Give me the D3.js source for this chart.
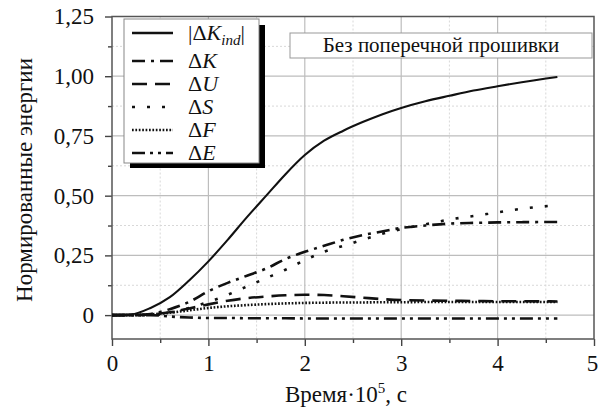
<!DOCTYPE html>
<html>
<head>
<meta charset="utf-8">
<script src="https://cdn.jsdelivr.net/npm/d3@7"></script>
<style>
  body { margin: 0; background: #fff; }
  svg { display: block; }
</style>
</head>
<body>
<div id="chart"></div>
<script>
// values (time in 1e-5 s, normalised energies)
const time   = [0, 0.2, 0.4, 0.6, 0.8, 1.0, 1.2, 1.4, 1.6, 1.8, 2.0, 2.2, 2.4, 2.6, 2.8, 3.0, 3.25, 3.5, 3.75, 4.0, 4.25, 4.62];
const kInd   = [0, 0.003, 0.03, 0.075, 0.145, 0.225, 0.315, 0.41, 0.50, 0.59, 0.67, 0.73, 0.772, 0.808, 0.84, 0.867, 0.895, 0.918, 0.94, 0.958, 0.975, 0.997];
const dK     = [0, 0, 0.005, 0.025, 0.055, 0.10, 0.135, 0.165, 0.195, 0.235, 0.265, 0.29, 0.315, 0.335, 0.35, 0.365, 0.375, 0.383, 0.386, 0.388, 0.389, 0.39];
const dU     = [0, 0, 0.003, 0.012, 0.028, 0.045, 0.06, 0.071, 0.078, 0.083, 0.085, 0.084, 0.079, 0.073, 0.067, 0.063, 0.061, 0.06, 0.059, 0.058, 0.058, 0.057];
const dS     = [0, 0, 0, 0.01, 0.03, 0.055, 0.085, 0.12, 0.155, 0.19, 0.23, 0.265, 0.29, 0.315, 0.34, 0.36, 0.38, 0.40, 0.415, 0.43, 0.445, 0.46];
const dF     = [0, 0, 0.003, 0.01, 0.02, 0.03, 0.037, 0.042, 0.046, 0.049, 0.051, 0.052, 0.053, 0.053, 0.054, 0.054, 0.055, 0.055, 0.055, 0.055, 0.055, 0.055];
const dE     = [0, 0, 0, -0.006, -0.01, -0.012, -0.012, -0.013, -0.013, -0.013, -0.014, -0.014, -0.014, -0.014, -0.014, -0.014, -0.014, -0.014, -0.014, -0.014, -0.014, -0.014];

const xTicks = [0, 1, 2, 3, 4, 5];
const yTicks = [0, 0.25, 0.5, 0.75, 1.0, 1.25];
const xMinor = [0.5, 1.5, 2.5, 3.5, 4.5];
const yMinor = [0.125, 0.375, 0.625, 0.875, 1.125];

const seriesNames = ["kInd", "dK", "dU", "dS", "dF", "dE"];
const seriesValues = [kInd, dK, dU, dS, dF, dE];
const dashes = ["none", "13,6,3,6", "15,8", "3,12", "1.7,1.7", "13,5,3,5,3,5"];
// legend labels: [text, italic?, subscript?]
const legendLabels = [
    [["|", 0, 0], ["Δ", 0, 0], ["K", 1, 0], ["ind", 1, 1], ["|", 0, 0]],
    [["Δ", 0, 0], ["K", 1, 0]],
    [["Δ", 0, 0], ["U", 1, 0]],
    [["Δ", 0, 0], ["S", 1, 0]],
    [["Δ", 0, 0], ["F", 1, 0]],
    [["Δ", 0, 0], ["E", 1, 0]]
];
const note = "Без поперечной прошивки";

const FONT = "'Liberation Serif', 'Times New Roman', Times";
const width = 598, height = 412;
const margin = { top: 16.5, right: 4, bottom: 73, left: 112 };

const svg = d3.select("#chart").append("svg")
    .attr("width", width)
    .attr("height", height)
    .attr("font-family", FONT);

const x = d3.scaleLinear().domain([0, 5]).range([margin.left, width - margin.right]);
const y = d3.scaleLinear().domain([-0.1, 1.25]).range([height - margin.bottom, margin.top]);

const fmt = d => d === 0 ? "0" : d3.format(".2f")(d).replace(".", ",");

// grid
const grid = svg.append("g");
grid.selectAll(".vminor").data(xMinor).join("line")
    .attr("x1", d => x(d)).attr("x2", d => x(d))
    .attr("y1", y(1.25)).attr("y2", y(-0.1))
    .attr("stroke", "#d8d8d8").attr("stroke-dasharray", "2,2");
grid.selectAll(".hminor").data(yMinor).join("line")
    .attr("x1", x(0)).attr("x2", x(5))
    .attr("y1", d => y(d)).attr("y2", d => y(d))
    .attr("stroke", "#d8d8d8").attr("stroke-dasharray", "2,2");
grid.selectAll(".vmajor").data(xTicks.slice(1, -1)).join("line")
    .attr("x1", d => x(d)).attr("x2", d => x(d))
    .attr("y1", y(1.25)).attr("y2", y(-0.1))
    .attr("stroke", "#bdbdbd").attr("stroke-width", 1.2);
grid.selectAll(".hmajor").data(yTicks.slice(0, -1)).join("line")
    .attr("x1", x(0)).attr("x2", x(5))
    .attr("y1", d => y(d)).attr("y2", d => y(d))
    .attr("stroke", "#bdbdbd").attr("stroke-width", 1.2);

// axes
const xAxis = svg.append("g")
    .attr("transform", `translate(0,${y(-0.1)})`)
    .call(d3.axisBottom(x).tickValues(xTicks).tickFormat(d3.format("d")).tickSize(7).tickPadding(9));
const xAxisMinor = svg.append("g")
    .attr("transform", `translate(0,${y(-0.1)})`)
    .call(d3.axisBottom(x).tickValues(xMinor).tickFormat("").tickSize(4));
const yAxis = svg.append("g")
    .attr("transform", `translate(${x(0)},0)`)
    .call(d3.axisLeft(y).tickValues(yTicks).tickFormat(fmt).tickSize(7).tickPadding(11));
const yAxisMinor = svg.append("g")
    .attr("transform", `translate(${x(0)},0)`)
    .call(d3.axisLeft(y).tickValues(yMinor).tickFormat("").tickSize(4));

[xAxis, xAxisMinor, yAxis, yAxisMinor].forEach(g => {
    g.attr("font-family", FONT).attr("font-size", 23);
    g.select(".domain").remove();
    g.selectAll("line").attr("stroke", "#444").attr("stroke-width", 1.4);
    g.selectAll("text").attr("fill", "#111");
});
yAxis.selectAll("text").attr("dy", "0.32em");
// last x label sits on the page edge, as in the source
xAxis.selectAll("text").filter(d => d === 5).attr("dx", -2);

// frame
svg.append("rect")
    .attr("x", x(0)).attr("y", y(1.25))
    .attr("width", x(5) - x(0)).attr("height", y(-0.1) - y(1.25))
    .attr("fill", "none").attr("stroke", "#555").attr("stroke-width", 1.5);

// curves
const line = d3.line()
    .x((d, i) => x(time[i]))
    .y(d => y(d))
    .curve(d3.curveMonotoneX);

svg.append("g").selectAll("path")
    .data(seriesValues)
    .join("path")
    .attr("d", d => line(d))
    .attr("fill", "none")
    .attr("stroke", "#111")
    .attr("stroke-width", (d, i) => i === 0 ? 2.1 : 2.6)
    .attr("stroke-dasharray", (d, i) => dashes[i]);

// legend
const lg = svg.append("g");
lg.append("rect").attr("x", 130).attr("y", 25).attr("width", 135).attr("height", 143).attr("fill", "#000");
lg.append("rect").attr("x", 124).attr("y", 19).attr("width", 135).attr("height", 144)
    .attr("fill", "#fff").attr("stroke", "#888").attr("stroke-width", 1);
const rowY = d3.scaleOrdinal().domain(seriesNames).range([33, 61, 84, 107, 130, 153]);
const items = lg.selectAll(".item").data(seriesNames).join("g")
    .attr("transform", d => `translate(0,${rowY(d)})`);
items.append("line")
    .attr("x1", 132).attr("x2", 173)
    .attr("stroke", "#111").attr("stroke-width", 2.6)
    .attr("stroke-dasharray", (d, i) => dashes[i]);
items.append("text")
    .attr("x", 188).attr("y", 7)
    .attr("font-size", 22).attr("fill", "#111")
    .each(function (d, i) {
        const t = d3.select(this);
        legendLabels[i].forEach(([txt, it, sub], j) => {
            const ts = t.append("tspan").text(txt).attr("font-style", it ? "italic" : "normal");
            if (sub) ts.attr("font-size", 15).attr("dy", 5);
            else if (j > 0 && legendLabels[i][j - 1][2]) ts.attr("dy", -5);
        });
    });

// note box
svg.append("rect").attr("x", 290).attr("y", 33).attr("width", 302).attr("height", 25)
    .attr("fill", "#fff").attr("stroke", "#999").attr("stroke-width", 1);
svg.append("text").attr("x", 441).attr("y", 52)
    .attr("text-anchor", "middle").attr("font-size", 21).attr("fill", "#111")
    .text(note);

// axis titles
const xt = svg.append("text").attr("x", 346).attr("y", 402)
    .attr("text-anchor", "middle").attr("font-size", 23).attr("fill", "#111");
xt.append("tspan").text("Время·10");
xt.append("tspan").text("5").attr("font-size", 15).attr("dy", -9);
xt.append("tspan").text(", с").attr("dy", 9);

svg.append("text")
    .attr("transform", "translate(32,180) rotate(-90)")
    .attr("text-anchor", "middle").attr("font-size", 23).attr("fill", "#111")
    .text("Нормированные энергии");
</script>
</body>
</html>
